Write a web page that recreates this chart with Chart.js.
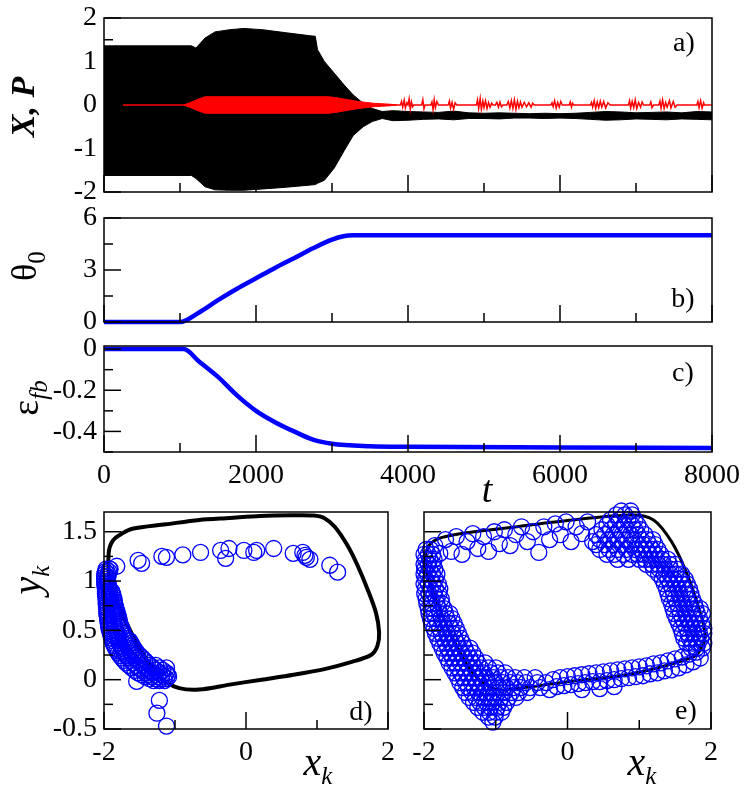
<!DOCTYPE html>
<html>
<head>
<meta charset="utf-8">
<script src="https://cdn.jsdelivr.net/npm/chart.js@4.4.1/dist/chart.umd.min.js"></script>
<style>
  body { margin: 0; background: #fff; }
  #wrap { position: relative; width: 747px; height: 787px; overflow: hidden; }
  canvas { position: absolute; left: 0; top: 0; }
  .lbl { position: absolute; font-family: "Liberation Serif", Tinos, "Noto Serif", "DejaVu Serif", FreeSerif, "Times New Roman", Times, serif;
         color: #000; white-space: nowrap; line-height: 1; transform: translate(-50%, -50%); }
  .rot { transform: translate(-50%, -50%) rotate(-90deg); }
  .it { font-style: italic; }
  .sub { font-size: 25px; position: relative; top: 9px; }
</style>
</head>
<body>
<div id="wrap">
  <canvas id="chartA" width="747" height="787"></canvas>
  <canvas id="chartB" width="747" height="787"></canvas>
  <canvas id="chartC" width="747" height="787"></canvas>
  <canvas id="chartD" width="747" height="787"></canvas>
  <canvas id="chartE" width="747" height="787"></canvas>

  <div class="lbl rot" style="left:23px;top:107px;font-size:34px;font-weight:bold;font-style:italic">X, P</div>
  <div class="lbl rot" style="left:24px;top:266px;font-size:36px">θ<span class="sub">0</span></div>
  <div class="lbl rot" style="left:25px;top:398px;font-size:38px">ε<span class="sub it">fb</span></div>
  <div class="lbl it" style="left:487px;top:489px;font-size:38px">t</div>
  <div class="lbl" style="left:318px;top:762px;font-size:40px"><span class="it">x</span><span class="sub it">k</span></div>
  <div class="lbl" style="left:642px;top:762px;font-size:40px"><span class="it">x</span><span class="sub it">k</span></div>
  <div class="lbl rot" style="left:27px;top:580px;font-size:40px"><span class="it">y</span><span class="sub it">k</span></div>

  <div class="lbl" style="left:684px;top:42px;font-size:28px">a)</div>
  <div class="lbl" style="left:683px;top:298px;font-size:28px">b)</div>
  <div class="lbl" style="left:683px;top:372px;font-size:28px">c)</div>
  <div class="lbl" style="left:361px;top:711px;font-size:28px">d)</div>
  <div class="lbl" style="left:686px;top:710px;font-size:28px">e)</div>
</div>

<script>
// ---- panel a: envelope of the fast oscillation X(t)
const tEnv = [0, 1150, 1210, 1330, 1460, 1650, 1840, 2090, 2400, 2720,
              2780, 2810, 2900, 3030, 3160, 3280, 3410, 3530, 3660, 3800,
              4000, 4200, 4400, 4600, 4800, 5000, 5200, 5400, 5600, 5800, 6000,
              6200, 6400, 6600, 6800, 7000, 7200, 7400, 7600, 7800, 8000];
const xTop = [1.36, 1.36, 1.31, 1.54, 1.68, 1.73, 1.76, 1.73, 1.66, 1.59,
              1.58, 1.27, 1.00, 0.73, 0.46, 0.23, 0.04, -0.08, -0.15, -0.13,
              -0.15, -0.16, -0.17, -0.14, -0.18, -0.19, -0.18, -0.19, -0.20, -0.19, -0.20,
              -0.19, -0.17, -0.15, -0.16, -0.18, -0.17, -0.16, -0.18, -0.15, -0.16];
const xBot = [-1.62, -1.62, -1.69, -1.88, -1.95, -1.96, -1.96, -1.93, -1.89, -1.84,
              -1.83, -1.80, -1.73, -1.45, -1.05, -0.70, -0.50, -0.38, -0.31, -0.36,
              -0.35, -0.33, -0.32, -0.34, -0.31, -0.31, -0.32, -0.30, -0.30, -0.31, -0.30,
              -0.31, -0.33, -0.35, -0.34, -0.32, -0.33, -0.34, -0.32, -0.33, -0.34];

// envelope of P(t) while it oscillates
const tRedEnv = [1050, 1150, 1250, 1330, 2950, 3050, 3150, 3250, 3350, 3450, 3550, 3650, 3750, 3850];
const pTop = [0, 0.07, 0.14, 0.19, 0.19, 0.17, 0.14, 0.11, 0.08, 0.06, 0.04, 0.03, 0.02, 0];
const pBot = [0, -0.07, -0.14, -0.19, -0.19, -0.17, -0.14, -0.11, -0.08, -0.06, -0.04, -0.03, -0.02, 0];

// P(t) baseline and the short bursts after t ~ 3900
const redP = [[250,0],[3900,0],[3915,0.08],[3930,-0.05],[3950,0.11],[3965,-0.07],[3985,0.05],[4000,0],
  [4015,0.14],[4030,-0.1],[4045,0.07],[4060,-0.04],[4075,0],[4180,0],[4195,0.12],[4210,-0.09],[4225,0],
  [4300,0],[4315,0.07],[4330,-0.11],[4345,0.12],[4360,-0.06],[4380,0.08],[4400,0],
  [4530,0],[4545,0.09],[4560,-0.07],[4580,0.06],[4600,-0.1],[4620,0.05],[4640,0],
  [4900,0],[4915,0.12],[4930,-0.08],[4950,0.15],[4965,-0.1],[4985,0.09],[5000,-0.06],[5020,0.1],
  [5040,-0.08],[5060,0.06],[5080,-0.05],[5100,0.04],[5120,0],[5150,0],[5170,0.06],[5190,-0.05],
  [5210,0.07],[5230,-0.04],[5250,0],[5300,0],[5320,0.08],[5340,-0.07],[5360,0.1],[5380,-0.08],
  [5400,0.12],[5420,-0.1],[5440,0.09],[5460,-0.06],[5480,0.07],[5500,-0.05],[5530,0.06],[5560,-0.04],
  [5590,0.05],[5620,-0.05],[5640,0.04],[5660,0],[5880,0],[5895,0.05],[5910,-0.04],[5930,0.1],
  [5950,-0.07],[5970,0.06],[5990,-0.05],[6010,0.08],[6030,0],[6120,0],[6135,0.07],[6150,-0.05],
  [6165,0.04],[6180,0],[6400,0],[6415,0.06],[6430,-0.05],[6450,0.1],[6470,-0.08],[6490,0.07],
  [6510,-0.06],[6530,0.09],[6550,-0.05],[6575,0.08],[6600,-0.07],[6630,0.05],[6660,0],
  [6900,0],[6915,0.1],[6930,-0.07],[6950,0.08],[6970,-0.06],[6990,0.12],[7010,-0.08],[7035,0.06],
  [7060,-0.05],[7080,0.07],[7100,0],[7180,0],[7195,0.07],[7210,-0.06],[7230,0],[7300,0],
  [7315,0.09],[7330,-0.07],[7350,0.12],[7370,-0.08],[7390,0.06],[7410,-0.05],[7440,0.1],
  [7460,-0.07],[7490,0.08],[7515,-0.05],[7540,0],[7800,0],[7815,0.08],[7830,-0.06],[7850,0.1],
  [7870,-0.07],[7890,0.05],[7900,0],[8000,0]];

// ---- panel b: theta_0(t)
const tTheta = [0, 1000, 1250, 1500, 1750, 2000, 2250, 2500, 2750, 3000, 3150, 3280, 8000];
const theta = [0, 0, 0.55, 1.26, 1.92, 2.52, 3.12, 3.68, 4.25, 4.75, 4.95, 5.0, 5.0];

// ---- panel c: eps_fb(t)
const tEps = [0, 1050, 1250, 1500, 1750, 2000, 2250, 2500, 2750, 3000, 3500, 4000, 6000, 8000];
const eps = [0, 0, -0.06, -0.135, -0.225, -0.30, -0.355, -0.40, -0.44, -0.46, -0.472, -0.475, -0.478, -0.48];

// ---- panel d: limit cycle and map points
const loopD = [[-1.94,1.20],[-1.93,1.31],[-1.90,1.38],[-1.85,1.43],[-1.75,1.48],[-1.60,1.53],[-1.13,1.575],
  [-0.66,1.62],[-0.23,1.64],[0.20,1.66],[0.64,1.667],[0.95,1.665],[1.10,1.64],[1.25,1.55],[1.43,1.36],
  [1.57,1.16],[1.71,0.92],[1.83,0.68],[1.875,0.48],[1.85,0.34],[1.76,0.25],[1.49,0.18],[1.12,0.11],
  [0.67,0.05],[0.22,0.0],[-0.23,-0.05],[-0.66,-0.10],[-0.94,-0.085],[-1.17,0.0],[-1.40,0.20],
  [-1.59,0.44],[-1.75,0.68],[-1.87,0.88],[-1.93,1.05],[-1.94,1.20]];
const circlesD = [
  // upper arc
  [-1.82,1.15],[-1.915,1.12],[-1.52,1.21],[-1.47,1.18],[-1.185,1.25],[-1.12,1.24],[-0.89,1.265],
  [-0.64,1.29],[-0.357,1.31],[-0.287,1.23],[-0.24,1.33],[-0.03,1.31],[0.11,1.29],[0.15,1.31],
  [0.39,1.33],[0.665,1.28],[0.80,1.29],[0.85,1.24],[0.90,1.22],[0.83,1.26],[1.18,1.16],[1.29,1.09],
  // scattered points
  [-1.54,-0.017],[-1.845,0.44],[-1.75,0.28],[-1.12,0.12],[-1.22,-0.21],[-1.255,-0.34],[-1.12,-0.47],
  // dense branch on the left
  [-1.97,1.12],[-1.92,1.12],[-1.99,1.07],[-1.94,1.07],[-1.99,1.02],[-1.95,1.02],[-1.99,0.97],[-1.94,0.97],
  [-1.98,0.92],[-1.93,0.92],[-1.98,0.87],[-1.92,0.87],[-1.88,0.87],[-1.97,0.82],[-1.91,0.82],[-1.86,0.82],
  [-1.97,0.77],[-1.90,0.77],[-1.85,0.77],[-1.96,0.72],[-1.89,0.72],[-1.83,0.72],[-1.96,0.67],[-1.88,0.67],
  [-1.81,0.67],[-1.95,0.62],[-1.87,0.62],[-1.79,0.62],[-1.94,0.57],[-1.86,0.57],[-1.78,0.57],[-1.93,0.52],
  [-1.84,0.52],[-1.75,0.52],[-1.91,0.47],[-1.82,0.47],[-1.73,0.47],[-1.89,0.42],[-1.80,0.42],[-1.71,0.42],
  [-1.87,0.37],[-1.78,0.37],[-1.68,0.37],[-1.62,0.37],[-1.84,0.32],[-1.75,0.32],[-1.66,0.32],[-1.58,0.32],
  [-1.80,0.27],[-1.71,0.27],[-1.62,0.27],[-1.53,0.27],[-1.75,0.22],[-1.66,0.22],[-1.56,0.22],[-1.46,0.22],
  [-1.69,0.17],[-1.59,0.17],[-1.49,0.17],[-1.39,0.17],[-1.61,0.12],[-1.51,0.12],[-1.41,0.12],[-1.31,0.12],
  [-1.22,0.12],[-1.52,0.07],[-1.42,0.07],[-1.32,0.07],[-1.22,0.07],[-1.12,0.07],[-1.42,0.03],[-1.33,0.03],
  [-1.24,0.03],[-1.15,0.03],[-1.09,0.03],[-1.30,-0.01],[-1.22,-0.01],[-1.15,-0.01],
  [-1.98,1.095],[-1.93,1.095],[-1.99,1.045],[-1.945,1.045],[-1.99,0.995],[-1.95,0.995],[-1.985,0.945],
  [-1.935,0.945],[-1.98,0.895],[-1.925,0.895],[-1.89,0.895],[-1.975,0.845],[-1.915,0.845],[-1.87,0.845],
  [-1.97,0.795],[-1.905,0.795],[-1.855,0.795],[-1.965,0.745],[-1.895,0.745],[-1.84,0.745],[-1.96,0.695],
  [-1.885,0.695],[-1.82,0.695],[-1.955,0.645],[-1.875,0.645],[-1.80,0.645],[-1.945,0.595],[-1.865,0.595],
  [-1.785,0.595],[-1.935,0.545],[-1.85,0.545],[-1.765,0.545],[-1.92,0.495],[-1.83,0.495],[-1.74,0.495],
  [-1.90,0.445],[-1.81,0.445],[-1.72,0.445],[-1.88,0.395],[-1.79,0.395],[-1.695,0.395],[-1.64,0.395],
  [-1.855,0.345],[-1.765,0.345],[-1.67,0.345],[-1.60,0.345],[-1.82,0.295],[-1.73,0.295],[-1.64,0.295],
  [-1.555,0.295],[-1.775,0.245],[-1.685,0.245],[-1.59,0.245],[-1.495,0.245],[-1.72,0.195],[-1.625,0.195],
  [-1.525,0.195],[-1.425,0.195],[-1.65,0.145],[-1.55,0.145],[-1.45,0.145],[-1.35,0.145],[-1.27,0.145],
  [-1.565,0.095],[-1.465,0.095],[-1.365,0.095],[-1.265,0.095],[-1.17,0.095],[-1.47,0.05],[-1.375,0.05],
  [-1.28,0.05],[-1.185,0.05],[-1.10,0.05],[-1.36,0.01],[-1.275,0.01],[-1.19,0.01],[-1.12,0.01]];

// ---- panel e: limit cycle and map points
const loopE = [[-1.99,1.25],[-1.93,1.36],[-1.80,1.43],[-1.50,1.48],[-0.94,1.53],[0,1.615],[0.9,1.67],
  [1.2,1.62],[1.45,1.40],[1.65,1.10],[1.82,0.75],[1.92,0.45],[1.85,0.30],[1.75,0.23],[0.9,0.06],
  [0,-0.02],[-0.6,-0.08],[-1.0,-0.10],[-1.3,0.05],[-1.55,0.35],[-1.8,0.75],[-1.95,1.05],[-1.99,1.25]];
const circlesE = [
  // left branch
  [-1.97,1.32],[-1.91,1.32],[-2.0,1.27],[-1.94,1.27],[-1.88,1.27],[-1.98,1.22],[-1.92,1.22],[-1.86,1.22],
  [-2.0,1.17],[-1.94,1.17],[-1.87,1.17],[-1.99,1.12],[-1.92,1.12],[-1.85,1.12],[-2.0,1.07],[-1.95,1.07],
  [-1.88,1.07],[-1.82,1.07],[-1.98,1.02],[-1.91,1.02],[-1.84,1.02],[-2.0,0.97],[-1.94,0.97],[-1.87,0.97],
  [-1.80,0.97],[-1.98,0.92],[-1.91,0.92],[-1.84,0.92],[-1.78,0.92],[-1.99,0.87],[-1.93,0.87],[-1.86,0.87],
  [-1.79,0.87],[-1.97,0.82],[-1.90,0.82],[-1.83,0.82],[-1.76,0.82],[-1.96,0.77],[-1.89,0.77],[-1.82,0.77],
  [-1.75,0.77],[-1.94,0.72],[-1.87,0.72],[-1.80,0.72],[-1.72,0.72],[-1.93,0.67],[-1.86,0.67],[-1.78,0.67],
  [-1.70,0.67],[-1.64,0.67],[-1.91,0.62],[-1.84,0.62],[-1.76,0.62],[-1.68,0.62],[-1.61,0.62],[-1.89,0.57],
  [-1.81,0.57],[-1.73,0.57],[-1.65,0.57],[-1.58,0.57],[-1.86,0.52],[-1.78,0.52],[-1.70,0.52],[-1.62,0.52],
  [-1.55,0.52],[-1.84,0.47],[-1.76,0.47],[-1.68,0.47],[-1.60,0.47],[-1.52,0.47],[-1.81,0.42],[-1.73,0.42],
  [-1.65,0.42],[-1.57,0.42],[-1.49,0.42],[-1.78,0.37],[-1.70,0.37],[-1.62,0.37],[-1.54,0.37],[-1.46,0.37],
  [-1.75,0.32],[-1.67,0.32],[-1.59,0.32],[-1.51,0.32],[-1.43,0.32],[-1.36,0.32],[-1.72,0.27],[-1.64,0.27],
  [-1.56,0.27],[-1.48,0.27],[-1.40,0.27],[-1.32,0.27],[-1.68,0.22],[-1.60,0.22],[-1.52,0.22],[-1.44,0.22],
  [-1.36,0.22],[-1.28,0.22],[-1.65,0.17],[-1.57,0.17],[-1.49,0.17],[-1.41,0.17],[-1.33,0.17],[-1.25,0.17],
  [-1.15,0.17],[-1.61,0.12],[-1.53,0.12],[-1.45,0.12],[-1.37,0.12],[-1.29,0.12],[-1.21,0.12],[-1.10,0.12],
  [-1.0,0.12],[-1.57,0.07],[-1.49,0.07],[-1.41,0.07],[-1.33,0.07],[-1.25,0.07],[-1.17,0.07],[-1.07,0.07],
  [-0.97,0.07],[-0.87,0.07],
  // lower left lobe
  [-1.53,0.02],[-1.45,0.02],[-1.37,0.02],[-1.29,0.02],[-1.21,0.02],[-1.13,0.02],[-1.03,0.02],[-0.93,0.02],
  [-0.83,0.02],[-0.73,0.02],[-0.60,0.02],[-0.45,0.02],[-1.50,-0.03],[-1.42,-0.03],[-1.34,-0.03],[-1.26,-0.03],
  [-1.18,-0.03],[-1.10,-0.03],[-1.00,-0.03],[-0.90,-0.03],[-0.80,-0.03],[-0.70,-0.03],[-0.58,-0.03],
  [-0.42,-0.03],[-0.30,-0.03],[-1.46,-0.08],[-1.38,-0.08],[-1.30,-0.08],[-1.22,-0.08],[-1.14,-0.08],
  [-1.05,-0.08],[-0.95,-0.08],[-0.85,-0.08],[-0.75,-0.08],[-0.65,-0.08],[-0.52,-0.08],[-0.38,-0.08],
  [-1.42,-0.13],[-1.33,-0.13],[-1.24,-0.13],[-1.15,-0.13],[-1.06,-0.13],[-0.97,-0.13],[-0.88,-0.13],
  [-0.78,-0.13],[-0.68,-0.13],[-0.56,-0.13],[-1.37,-0.18],[-1.28,-0.18],[-1.19,-0.18],[-1.10,-0.18],
  [-1.01,-0.18],[-0.92,-0.18],[-0.82,-0.18],[-0.72,-0.18],[-1.31,-0.23],[-1.22,-0.23],[-1.13,-0.23],
  [-1.04,-0.23],[-0.95,-0.23],[-0.85,-0.23],[-1.25,-0.28],[-1.16,-0.28],[-1.07,-0.28],[-0.98,-0.28],
  [-0.89,-0.28],[-1.18,-0.33],[-1.09,-0.33],[-1.00,-0.33],[-0.92,-0.33],[-1.10,-0.38],[-1.01,-0.38],
  [-1.04,-0.43],
  // bottom branch
  [-0.25,-0.10],[-0.2,0.0],[-0.15,-0.07],[-0.1,0.02],[-0.05,-0.06],[0.0,0.03],[0.05,-0.05],[0.1,0.04],
  [0.15,-0.04],[0.2,0.05],[0.25,-0.03],[0.3,0.06],[0.35,-0.02],[0.4,0.07],[0.45,-0.02],[0.5,0.08],
  [0.55,-0.01],[0.6,0.09],[0.65,0.0],[0.7,0.1],[0.75,0.01],[0.8,0.11],[0.85,0.02],[0.9,0.12],[0.95,0.03],
  [1.0,0.13],[1.05,0.04],[1.1,0.14],[1.15,0.06],[1.2,0.16],[1.25,0.07],[1.3,0.17],[1.35,0.09],[1.4,0.19],
  [1.45,0.10],[1.5,0.21],[1.55,0.12],[1.6,0.23],[1.65,0.15],[1.7,0.26],[1.75,0.18],[1.8,0.28],[1.85,0.22],
  [0.2,-0.10],[0.45,-0.09],[0.65,-0.07],
  // right branch
  [1.72,0.32],[1.80,0.32],[1.88,0.32],[1.66,0.37],[1.74,0.37],[1.82,0.37],[1.90,0.37],[1.62,0.42],
  [1.70,0.42],[1.78,0.42],[1.86,0.42],[1.60,0.47],[1.68,0.47],[1.76,0.47],[1.84,0.47],[1.90,0.47],
  [1.58,0.52],[1.66,0.52],[1.74,0.52],[1.82,0.52],[1.90,0.52],[1.55,0.57],[1.63,0.57],[1.71,0.57],
  [1.79,0.57],[1.87,0.57],[1.52,0.62],[1.60,0.62],[1.68,0.62],[1.76,0.62],[1.84,0.62],[1.49,0.67],
  [1.57,0.67],[1.65,0.67],[1.73,0.67],[1.81,0.67],[1.88,0.67],[1.47,0.72],[1.55,0.72],[1.63,0.72],
  [1.71,0.72],[1.79,0.72],[1.85,0.72],[1.45,0.77],[1.53,0.77],[1.61,0.77],[1.69,0.77],[1.77,0.77],
  [1.42,0.82],[1.50,0.82],[1.58,0.82],[1.66,0.82],[1.74,0.82],[1.40,0.87],[1.48,0.87],[1.56,0.87],
  [1.64,0.87],[1.72,0.87],[1.38,0.92],[1.46,0.92],[1.54,0.92],[1.62,0.92],[1.70,0.92],[1.35,0.97],
  [1.43,0.97],[1.51,0.97],[1.59,0.97],[1.67,0.97],[1.32,1.02],[1.40,1.02],[1.48,1.02],[1.56,1.02],
  [1.64,1.02],[1.27,1.07],[1.35,1.07],[1.43,1.07],[1.51,1.07],[1.59,1.07],[1.20,1.12],[1.28,1.12],
  [1.36,1.12],[1.44,1.12],[1.52,1.12],[1.10,1.17],[1.18,1.17],[1.26,1.17],[1.34,1.17],[1.42,1.17],
  [1.50,1.17],
  // upper right cluster
  [0.70,1.22],[0.85,1.22],[1.00,1.22],[1.08,1.22],[1.16,1.22],[1.24,1.22],[1.32,1.22],[1.40,1.22],
  [0.55,1.27],[0.65,1.27],[0.78,1.27],[0.90,1.27],[0.98,1.27],[1.06,1.27],[1.14,1.27],[1.22,1.27],
  [1.30,1.27],[0.45,1.32],[0.58,1.32],[0.70,1.32],[0.82,1.32],[0.94,1.32],[1.02,1.32],[1.10,1.32],
  [1.18,1.32],[1.26,1.32],[0.40,1.37],[0.52,1.37],[0.64,1.37],[0.76,1.37],[0.88,1.37],[0.98,1.37],
  [1.06,1.37],[1.14,1.37],[1.22,1.37],[0.45,1.42],[0.57,1.42],[0.69,1.42],[0.81,1.42],[0.93,1.42],
  [1.03,1.42],[1.11,1.42],[1.19,1.42],[0.40,1.47],[0.52,1.47],[0.64,1.47],[0.76,1.47],[0.88,1.47],
  [0.98,1.47],[1.08,1.47],[0.48,1.52],[0.60,1.52],[0.72,1.52],[0.84,1.52],[0.94,1.52],[1.02,1.52],
  [0.55,1.57],[0.67,1.57],[0.79,1.57],[0.90,1.57],[0.98,1.57],[0.60,1.62],[0.72,1.62],[0.84,1.62],
  [0.94,1.62],[0.68,1.67],[0.80,1.67],[0.90,1.67],[0.75,1.71],[0.88,1.71],
  // upper branch
  [-1.85,1.36],[-1.78,1.28],[-1.70,1.42],[-1.62,1.30],[-1.55,1.45],[-1.47,1.27],[-1.40,1.40],
  [-1.32,1.48],[-1.25,1.33],[-1.17,1.45],[-1.10,1.30],[-1.02,1.50],[-0.95,1.38],[-0.88,1.52],
  [-0.80,1.36],[-0.72,1.47],[-0.64,1.55],[-0.56,1.40],[-0.48,1.50],[-0.40,1.29],[-0.33,1.55],
  [-0.25,1.42],[-0.17,1.58],[-0.10,1.47],[-0.02,1.60],[0.05,1.40],[0.12,1.55],[0.20,1.48],
  [0.28,1.60],[0.35,1.40]];

// ---- tick values and labels
const tTicks = [0, 1000, 2000, 3000, 4000, 5000, 6000, 7000, 8000];
const tMajor = [0, 2000, 4000, 6000, 8000];
const tLabels = ['0', '2000', '4000', '6000', '8000'];
const aTicks = [-2, -1.5, -1, -0.5, 0, 0.5, 1, 1.5, 2];
const aMajor = [-2, -1, 0, 1, 2];
const aLabels = ['-2', '-1', '0', '1', '2'];
const bTicks = [0, 1.5, 3, 4.5, 6];
const bMajor = [0, 3, 6];
const bLabels = ['0', '3', '6'];
const cTicks = [-0.5, -0.4, -0.3, -0.2, -0.1, 0];
const cMajor = [0, -0.2, -0.4];
const cLabels = ['0', '-0.2', '-0.4'];
const kxTicks = [-2, -1, 0, 1, 2];
const kxMajor = [-2, 0, 2];
const kxLabels = ['-2', '0', '2'];
const kyTicks = [-0.5, -0.25, 0, 0.25, 0.5, 0.75, 1, 1.25, 1.5];
const kyMajor = [-0.5, 0, 0.5, 1, 1.5];
const kyLabels = ['-0.5', '0', '0.5', '1', '1.5'];

Chart.defaults.font.family = '"Liberation Serif", Tinos, "Noto Serif", "DejaVu Serif", FreeSerif, "Times New Roman", Times, serif';
Chart.defaults.color = '#000';

function pairs(xs, ys) {
    return xs.map((x, i) => ({ x: x, y: ys[i] }));
}
function pts(list) {
    return list.map(p => ({ x: p[0], y: p[1] }));
}

// frame round the plot area and inward tick marks, taken from the scales
const frameTicks = {
    id: 'frameTicks',
    afterDatasetsDraw(chart) {
        const ctx = chart.ctx;
        const a = chart.chartArea;
        ctx.save();
        ctx.strokeStyle = '#000';
        ctx.lineWidth = 1.5;
        ['x', 'y'].forEach(id => {
            const s = chart.scales[id];
            s.ticks.forEach(tk => {
                const len = tk.big ? 17 : 9;
                const p = s.getPixelForValue(tk.value);
                ctx.beginPath();
                if (id === 'x') {
                    ctx.moveTo(p, a.bottom);
                    ctx.lineTo(p, a.bottom - len);
                } else {
                    ctx.moveTo(a.left, p);
                    ctx.lineTo(a.left + len, p);
                }
                ctx.stroke();
            });
        });
        ctx.strokeRect(a.left, a.top, a.right - a.left, a.bottom - a.top);
        ctx.restore();
    }
};

function axis(min, max, vals, majors, labels, showLabels, size) {
    return {
        type: 'linear',
        min: min,
        max: max,
        grid: { display: false, drawTicks: false },
        border: { display: false },
        afterBuildTicks: s => {
            s.ticks = vals.map(v => ({ value: v, big: majors.includes(v) }));
        },
        afterFit: s => {
            if (s.isHorizontal()) s.height = size; else s.width = size;
            s.paddingLeft = 0; s.paddingRight = 0; s.paddingTop = 0; s.paddingBottom = 0;
        },
        ticks: {
            display: showLabels,
            autoSkip: false,
            maxRotation: 0,
            minRotation: 0,
            padding: 7,
            color: '#000',
            font: { size: 28 },
            callback: v => {
                const k = majors.indexOf(v);
                return k >= 0 ? labels[k] : '';
            }
        }
    };
}

function makePanel(id, box, xAxis, yAxis, datasets) {
    return new Chart(document.getElementById(id).getContext('2d'), {
        type: 'line',
        data: { datasets: datasets },
        options: {
            responsive: false,
            animation: false,
            layout: { padding: { left: 0, top: box.top, right: 747 - box.right, bottom: 0 } },
            plugins: { legend: { display: false }, tooltip: { enabled: false } },
            scales: { x: xAxis, y: yAxis }
        },
        plugins: [frameTicks]
    });
}

function circleSet(list) {
    return { data: pts(list), showLine: false, pointRadius: 8, pointStyle: 'circle',
             pointBorderColor: '#0000ff', pointBackgroundColor: 'rgba(0,0,0,0)', pointBorderWidth: 1.3,
             clip: false, order: 1 };
}

// panel a
makePanel('chartA', { top: 18, right: 712 },
    axis(0, 8000, tTicks, tMajor, tLabels, false, 787 - 192),
    axis(-2, 2, aTicks, aMajor, aLabels, true, 104),
    [
        { data: pairs(tRedEnv, pTop), borderColor: '#ff0000', borderWidth: 1, backgroundColor: '#ff0000',
          fill: '+1', pointRadius: 0, tension: 0, order: 2 },
        { data: pairs(tRedEnv, pBot), borderColor: '#ff0000', borderWidth: 1, fill: false,
          pointRadius: 0, tension: 0, order: 2 },
        { data: pts(redP), borderColor: '#ff0000', borderWidth: 1.5, fill: false,
          pointRadius: 0, tension: 0, order: 1 },
        { data: pairs(tEnv, xTop), borderColor: '#000', borderWidth: 1, backgroundColor: '#000',
          fill: '+1', pointRadius: 0, tension: 0, order: 5 },
        { data: pairs(tEnv, xBot), borderColor: '#000', borderWidth: 1, fill: false,
          pointRadius: 0, tension: 0, order: 5 }
    ]);

// panel b
makePanel('chartB', { top: 218, right: 712 },
    axis(0, 8000, tTicks, tMajor, tLabels, false, 787 - 322),
    axis(0, 6, bTicks, bMajor, bLabels, true, 104),
    [
        { data: pairs(tTheta, theta), borderColor: '#0000ff', borderWidth: 4.5, fill: false,
          pointRadius: 0, cubicInterpolationMode: 'monotone', clip: false }
    ]);

// panel c
makePanel('chartC', { top: 346, right: 712 },
    axis(0, 8000, tTicks, tMajor, tLabels, true, 787 - 452),
    axis(-0.5, 0.015, cTicks, cMajor, cLabels, true, 104),
    [
        { data: pairs(tEps, eps), borderColor: '#0000ff', borderWidth: 4.5, fill: false,
          pointRadius: 0, cubicInterpolationMode: 'monotone', clip: false }
    ]);

// panel d
makePanel('chartD', { top: 512, right: 388 },
    axis(-2, 2, kxTicks, kxMajor, kxLabels, true, 787 - 729),
    axis(-0.5, 1.7, kyTicks, kyMajor, kyLabels, true, 104),
    [
        circleSet(circlesD),
        { data: pts(loopD), borderColor: '#000', borderWidth: 4, fill: false, pointRadius: 0,
          tension: 0.3, order: 2 }
    ]);

// panel e
makePanel('chartE', { top: 512, right: 711 },
    axis(-2, 2, kxTicks, kxMajor, kxLabels, true, 787 - 729),
    axis(-0.5, 1.7, kyTicks, kyMajor, kyLabels, false, 424),
    [
        circleSet(circlesE),
        { data: pts(loopE), borderColor: '#000', borderWidth: 3, fill: false, pointRadius: 0,
          tension: 0.3, order: 2 }
    ]);
</script>
</body>
</html>
